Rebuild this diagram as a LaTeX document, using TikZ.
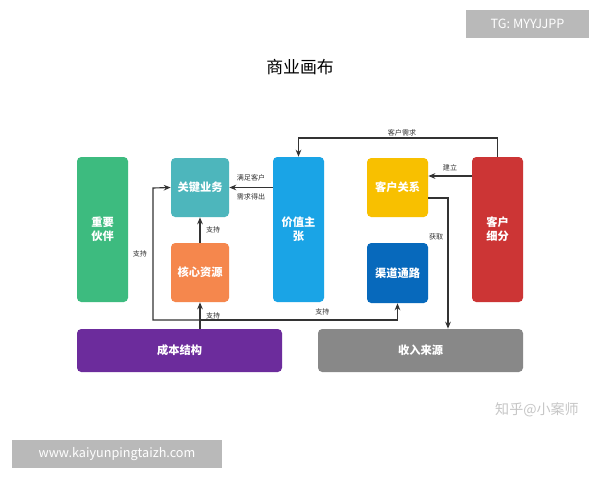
\documentclass[tikz,border=0pt]{standalone}
\usepackage{fontspec}
\setmainfont{Noto Sans CJK SC}
\usetikzlibrary{arrows.meta}
\definecolor{cgreen}{HTML}{3DBB7F}
\definecolor{cteal}{HTML}{4DB6BC}
\definecolor{corange}{HTML}{F5874D}
\definecolor{cblue}{HTML}{1AA4E6}
\definecolor{cyellow}{HTML}{F8C000}
\definecolor{cdblue}{HTML}{0769BC}
\definecolor{cred}{HTML}{CC3535}
\definecolor{cpurple}{HTML}{6C2C9C}
\definecolor{cgray}{HTML}{888888}
\definecolor{cline}{HTML}{333333}
\tikzset{
  block/.style={rounded corners=3pt, text=white, font=\fontsize{8}{10}\selectfont\bfseries, align=center, inner sep=0pt},
  conn/.style={draw=cline, line width=0.8pt, -{Stealth[length=5pt,width=4pt]}},
  lbl/.style={font=\fontsize{5}{6}\selectfont, text=cline, inner sep=1pt}
}
\begin{document}
\begin{tikzpicture}[x=0.025cm, y=-0.025cm]
        \useasboundingbox (0,0) rectangle (600,480);
        \fill[white] (0,0) rectangle (600,480);
        % title and marks
        \node[font=\fontsize{12}{14}\selectfont] (title) at (300,67) {商业画布};
        \node[fill=gray!55, text=white, minimum width=123*0.025cm, minimum height=28*0.025cm, font=\fontsize{9}{10}\selectfont] (tg) at (527.5,24) {TG: MYYJJPP};
        \node[fill=gray!55, text=white, minimum width=210*0.025cm, minimum height=28*0.025cm, font=\fontsize{9}{10}\selectfont] (web) at (117,454) {www.kaiyunpingtaizh.com};
        \node[text=gray!45, font=\fontsize{10}{12}\selectfont] (zhihu) at (537,410) {知乎@小案师};

        % blocks
        \node[block, fill=cgreen, minimum width=51*0.025cm, minimum height=145*0.025cm] (partner) at (102.5,229.5) {重要\\伙伴};
        \node[block, fill=cteal, minimum width=58*0.025cm, minimum height=59*0.025cm] (activity) at (200,187.5) {关键业务};
        \node[block, fill=corange, minimum width=58*0.025cm, minimum height=59*0.025cm] (resource) at (200,272.5) {核心资源};
        \node[block, fill=cblue, minimum width=51*0.025cm, minimum height=145*0.025cm] (value) at (298.5,229.5) {价值主\\张};
        \node[block, fill=cyellow, minimum width=61*0.025cm, minimum height=59*0.025cm] (relation) at (397.5,187.5) {客户关系};
        \node[block, fill=cdblue, minimum width=61*0.025cm, minimum height=60*0.025cm] (channel) at (397.5,273) {渠道通路};
        \node[block, fill=cred, minimum width=51*0.025cm, minimum height=145*0.025cm] (segment) at (497.5,229.5) {客户\\细分};
        \node[block, fill=cpurple, minimum width=205*0.025cm, minimum height=43*0.025cm] (cost) at (179.5,350.5) {成本结构};
        \node[block, fill=cgray, minimum width=205*0.025cm, minimum height=43*0.025cm] (revenue) at (420.5,350.5) {收入来源};

        % connectors
        \coordinate (split) at (200,320);
        \draw[conn] (segment.north) |- (402,138) node[lbl, above] {客户需求} -| (value.north);
        \draw[conn] (segment.west |- 0,176) -- node[lbl, above=2pt] {建立} (relation.east |- 0,176);
        \draw[conn] (relation.east |- 0,198) -| node[lbl, pos=0.65, left=2pt] {获取} (revenue.north -| 448,0);
        \draw[conn] (value.west |- activity.east) -- node[lbl, above=3pt] {满足客户} node[lbl, below=3pt] {需求得出} (activity.east);
        \draw[conn] (resource.north) -- node[lbl, right=3pt] {支持} (activity.south);
        \draw[conn] (cost.north -| resource.south) -- node[lbl, right=3pt] {支持} (resource.south);
        \draw[conn] (split) -| (153,188) node[lbl, pos=0.75, left=3pt] {支持} -- (activity.west);
        \draw[conn] (split) -| node[lbl, pos=0.31, above=2pt] {支持} (channel.south);
\end{tikzpicture}
\end{document}
